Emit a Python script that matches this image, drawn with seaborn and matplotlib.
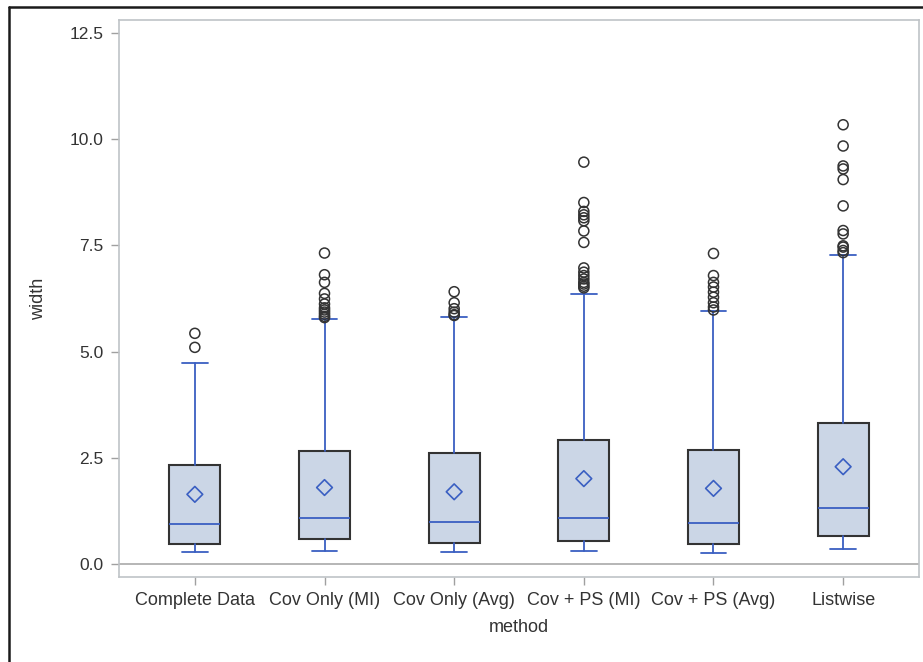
import matplotlib
matplotlib.use("Agg")
import matplotlib.pyplot as plt
from matplotlib.lines import Line2D
import pandas as pd
import seaborn as sns

# Summary statistics of interval width for each handling method
methods = ["Complete Data", "Cov Only (MI)", "Cov Only (Avg)",
           "Cov + PS (MI)", "Cov + PS (Avg)", "Listwise"]
q1 = [0.47, 0.58, 0.49, 0.55, 0.47, 0.66]
median = [0.94, 1.09, 0.99, 1.09, 0.96, 1.33]
q3 = [2.33, 2.66, 2.62, 2.91, 2.68, 3.31]
whisker_low = [0.28, 0.31, 0.28, 0.31, 0.27, 0.35]
whisker_high = [4.72, 5.76, 5.82, 6.36, 5.95, 7.28]
means = [1.64, 1.80, 1.70, 2.01, 1.78, 2.29]

# Observations beyond the upper whisker
outliers_complete = [5.10, 5.43]
outliers_cov_mi = [5.80, 5.83, 5.88, 5.93, 5.98, 6.03, 6.12, 6.24, 6.37, 6.63, 6.81, 7.32]
outliers_cov_avg = [5.85, 5.87, 5.93, 6.01, 6.15, 6.41]
outliers_ps_mi = [6.50, 6.54, 6.59, 6.63, 6.71, 6.79, 6.87, 6.97,
                  7.57, 7.84, 8.08, 8.15, 8.22, 8.30, 8.51, 9.46]
outliers_ps_avg = [5.98, 6.05, 6.15, 6.28, 6.40, 6.52, 6.63, 6.79, 7.31]
outliers_listwise = [7.33, 7.38, 7.46, 7.49, 7.77, 7.85, 8.43, 9.05, 9.30, 9.37, 9.84, 10.34]

outlier_lists = [outliers_complete, outliers_cov_mi, outliers_cov_avg,
                 outliers_ps_mi, outliers_ps_avg, outliers_listwise]

BLUE = "#3A5FC2"
FILL = "#CBD6E6"
EDGE = "#333333"
FRAME = "#BFC3C7"

sns.set_theme(style="white")
plt.rcParams["font.family"] = ["Liberation Sans", "DejaVu Sans"]

fig = plt.figure(figsize=(9.23, 6.62), dpi=100)
ax = fig.add_axes([119 / 923, 85 / 662, 800 / 923, 557 / 662])

positions = list(range(len(methods)))

stats = []
for i, name in enumerate(methods):
    stats.append(dict(label=name, q1=q1[i], med=median[i], q3=q3[i],
                      whislo=whisker_low[i], whishi=whisker_high[i],
                      mean=means[i], fliers=[]))

# reference line at zero
ax.axhline(0, color="#A9A9A9", lw=1.2, zorder=0.5)

ax.bxp(stats, positions=positions, widths=0.393, capwidths=0.197,
       patch_artist=True, showfliers=False, showmeans=False,
       boxprops=dict(facecolor=FILL, edgecolor=EDGE, linewidth=1.5),
       medianprops=dict(color=BLUE, linewidth=1.3),
       whiskerprops=dict(color=BLUE, linewidth=1.3),
       capprops=dict(color=BLUE, linewidth=1.3),
       manage_ticks=False)

flier_df = pd.DataFrame({
    "pos": [positions[i] for i, vals in enumerate(outlier_lists) for _ in vals],
    "width": [v for vals in outlier_lists for v in vals],
})
mean_df = pd.DataFrame({"pos": positions, "width": means})

sns.scatterplot(data=flier_df, x="pos", y="width", ax=ax, marker="o", s=52,
                facecolors="none", edgecolors="#333333", linewidth=1.1,
                zorder=4, legend=False)
sns.scatterplot(data=mean_df, x="pos", y="width", ax=ax, marker="D", s=64,
                facecolors="none", edgecolors=BLUE, linewidth=1.2,
                zorder=4, legend=False)

ax.set_xlim(-0.585, 5.585)
ax.set_ylim(-0.306, 12.806)
ax.set_xticks(positions)
ax.set_xticklabels(methods)
ax.set_yticks([0, 2.5, 5, 7.5, 10, 12.5])
ax.set_yticklabels([f"{v:.1f}" for v in [0, 2.5, 5, 7.5, 10, 12.5]])

ax.tick_params(axis="x", length=6, width=1.0, color="#A0A0A0", pad=5,
               labelsize=13, labelcolor="#333333", bottom=True)
ax.tick_params(axis="y", length=6, width=1.0, color="#A0A0A0", pad=5,
               labelsize=12.5, labelcolor="#333333", left=True)

for sp in ax.spines.values():
    sp.set_color(FRAME)
    sp.set_linewidth(1.2)

ax.set_xlabel("method", fontsize=13, color="#333333", labelpad=7)
ax.set_ylabel("width", fontsize=13, color="#333333", labelpad=16)

# outer frame lines along the top and left of the figure
fig.add_artist(Line2D([9 / 923, 9 / 923], [0, 1 - 7 / 662],
                      transform=fig.transFigure, color="#1A1A1A", lw=1.8))
fig.add_artist(Line2D([9 / 923, 1], [1 - 7 / 662, 1 - 7 / 662],
                      transform=fig.transFigure, color="#1A1A1A", lw=1.8))

fig.savefig("out.png", dpi=100)
